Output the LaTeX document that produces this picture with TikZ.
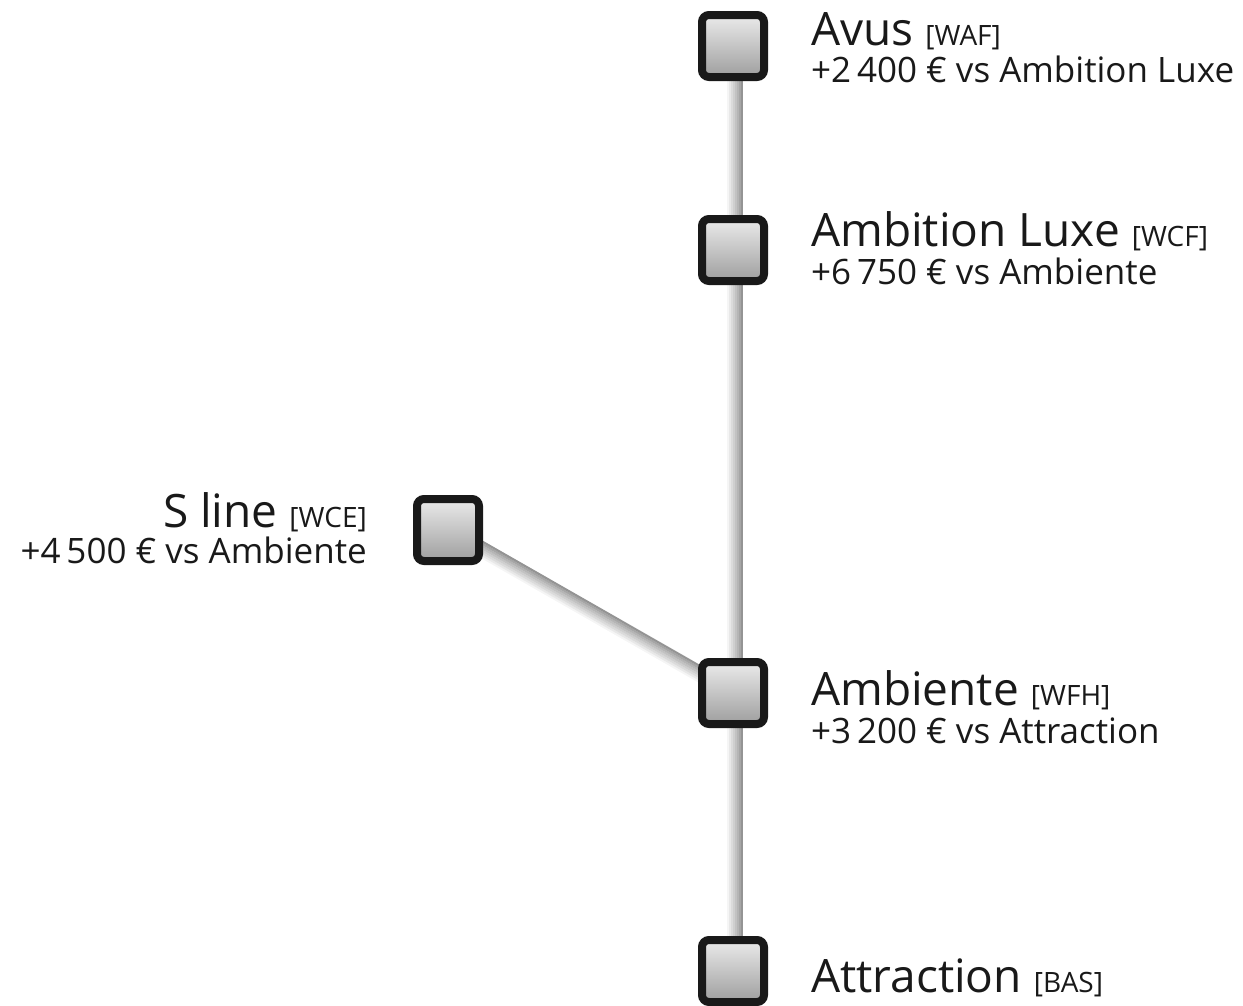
\documentclass[tikz,border=0pt]{standalone}
\usepackage{fontspec}
\setmainfont{Open Sans}
\usetikzlibrary{backgrounds}
\tikzset{
  sq/.style={draw=black!90, line width=8pt, rounded corners=7pt, minimum size=62pt,
    inner sep=0pt, top color=black!8, bottom color=black!38},
  lbl/.style={inner sep=0pt, text=black!90},
}
\newcommand\nmtxt[2]{{\fontsize{46}{50}\selectfont #1\ }{\fontsize{28}{32}\selectfont #2}}
\newcommand\prtxt[1]{{\fontsize{35}{38}\selectfont #1}}
\begin{document}
\begin{tikzpicture}[x=1pt,y=-1pt]
\useasboundingbox (0,0) rectangle (1243,1005);
% boxes
\node[sq] (avus) at (733,46) {};
\node[sq] (luxe) at (733,250) {};
\node[sq] (sline) at (448,530) {};
\node[sq] (amb) at (733,693) {};
\node[sq] (attr) at (733,971) {};
% connectors
\begin{pgfonlayer}{background}
\foreach \o/\c in {-7/4,-5/9,-3/14,-1/19,1/24,3/29,5/35,7/42} {
  \draw[line width=2.1pt, black!\c, transform canvas={xshift=\o pt+2pt}] (avus.center) -- (luxe.center);
  \draw[line width=2.1pt, black!\c, transform canvas={xshift=\o pt+2pt}] (luxe.center) -- (amb.center);
  \draw[line width=2.1pt, black!\c, transform canvas={xshift=\o pt+2pt}] (amb.center) -- (attr.center);
  \draw[line width=2.1pt, black!\c, transform canvas={shift={({\o*0.4965pt},{\o*0.868pt})}}] (sline.center) -- (amb.center);
}
\end{pgfonlayer}
% labels
\node[lbl, anchor=base west] (avusn) at (811,45) {\nmtxt{Avus}{[WAF]}};
\node[lbl, anchor=base west] (avusp) at (811,82) {\prtxt{+2\,400 € vs Ambition Luxe}};
\node[lbl, anchor=base west] (luxen) at (811,246) {\nmtxt{Ambition Luxe}{[WCF]}};
\node[lbl, anchor=base west] (luxep) at (811,284) {\prtxt{+6\,750 € vs Ambiente}};
\node[lbl, anchor=base east] (slinen) at (367,527) {\nmtxt{S line}{[WCE]}};
\node[lbl, anchor=base east] (slinep) at (367,563) {\prtxt{+4\,500 € vs Ambiente}};
\node[lbl, anchor=base west] (ambn) at (811,705) {\nmtxt{Ambiente}{[WFH]}};
\node[lbl, anchor=base west] (ambp) at (811,743) {\prtxt{+3\,200 € vs Attraction}};
\node[lbl, anchor=base west] (attrn) at (811,992) {\nmtxt{Attraction}{[BAS]}};
\end{tikzpicture}
\end{document}
